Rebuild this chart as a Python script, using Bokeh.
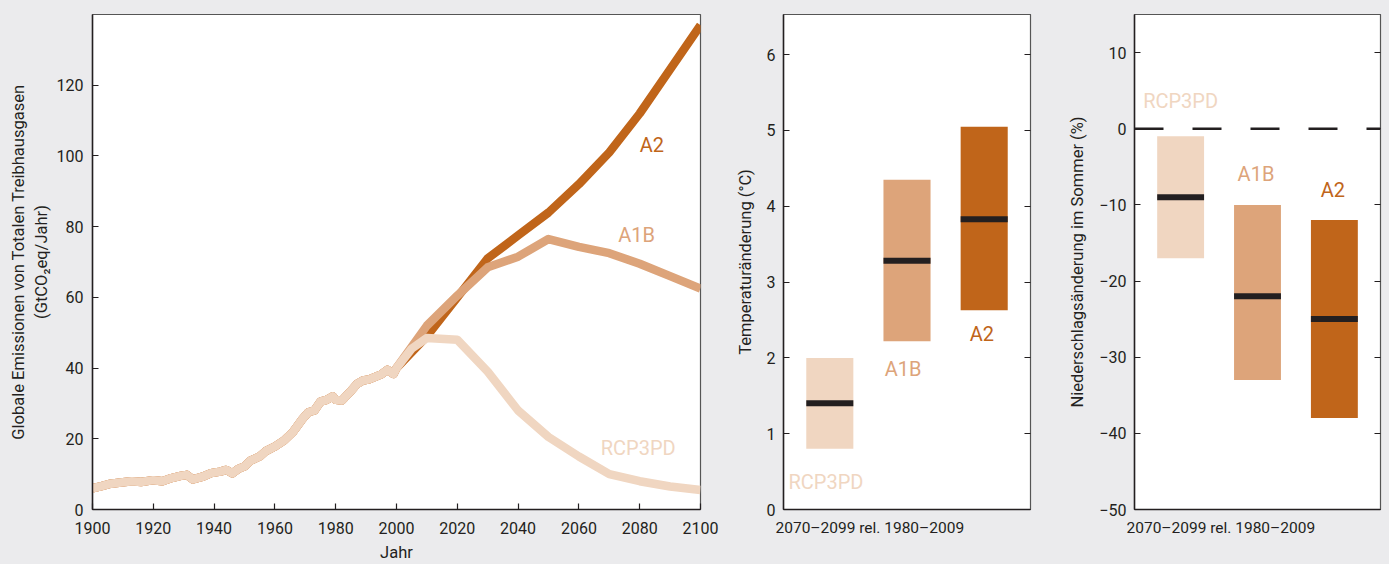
from bokeh.plotting import figure
from bokeh.models import LinearAxis, Range1d, FixedTicker, Title, Span, ColumnDataSource
from bokeh.layouts import row
from bokeh.embed import file_html
from bokeh.resources import INLINE
from bokeh.core.properties import value

# ---------------- data ----------------
hist_years = [1900, 1903, 1906, 1910, 1913, 1916, 1920, 1923, 1926, 1929, 1931, 1933, 1936,
              1939, 1942, 1944, 1946, 1948, 1950, 1952, 1955, 1957, 1960, 1963, 1966, 1969,
              1971, 1973, 1975, 1977, 1979, 1980, 1982, 1985, 1987, 1989, 1991, 1993, 1995,
              1997, 1999, 2000]
hist_vals = [6.0, 6.6, 7.3, 7.7, 8.0, 7.8, 8.3, 8.0, 8.9, 9.5, 9.8, 8.5, 9.2,
             10.3, 10.7, 11.2, 10.2, 11.5, 12.2, 13.8, 15.0, 16.5, 17.8, 19.5, 22.0, 25.5,
             27.5, 28.0, 30.5, 31.0, 32.0, 31.0, 30.8, 33.5, 35.5, 36.5, 36.8, 37.5, 38.2,
             39.5, 38.3, 40.0]

a2_years = [2010, 2020, 2030, 2040, 2050, 2060, 2070, 2080, 2090, 2100]
a2_vals = [49.0, 60.0, 71.0, 77.5, 84.0, 92.0, 101.0, 112.0, 124.5, 137.0]
a1b_years = [2010, 2020, 2030, 2040, 2050, 2060, 2070, 2080, 2090, 2100]
a1b_vals = [52.0, 60.5, 68.5, 71.5, 76.5, 74.3, 72.5, 69.5, 66.0, 62.5]
rcp_years = [2005, 2010, 2020, 2030, 2040, 2050, 2060, 2070, 2080, 2090, 2100]
rcp_vals = [45.5, 48.5, 48.0, 39.0, 28.0, 20.5, 15.0, 10.0, 8.0, 6.5, 5.5]

scenarios = ["RCP3PD", "A1B", "A2"]
temp_low = [0.8, 2.22, 2.63]
temp_high = [2.0, 4.35, 5.05]
temp_med = [1.4, 3.28, 3.83]
prec_low = [-17.0, -33.0, -38.0]
prec_high = [-1.0, -10.0, -12.0]
prec_med = [-9.0, -22.0, -25.0]

# label positions (annotation placement)
em_label_x = [2079.5, 2079, 2084]
em_label_y = [17.5, 77.5, 103.0]
temp_label_x = [0.95, 1.95, 2.97]
temp_label_y = [0.36, 1.86, 2.32]
prec_label_x = [1.0, 1.98, 2.98]
prec_label_y = [3.7, -5.9, -8.1]

# ---------------- style ----------------
BG = "#ebebed"
FONT = "Roboto"
C_A2 = "#c0651a"
C_A1B = "#dda47a"
C_RCP = "#f0d6c1"
COLORS = [C_RCP, C_A1B, C_A2]
TXT = "#231f20"
FH = 495


def style_axis(ax, ticks, overrides=None):
    ax.ticker = FixedTicker(ticks=ticks)
    ax.major_tick_in = 6
    ax.major_tick_out = 0
    ax.minor_tick_line_color = None
    ax.axis_line_color = TXT
    ax.axis_line_width = 1.5
    ax.major_tick_line_color = TXT
    ax.major_tick_line_width = 1.2
    ax.major_label_text_font = FONT
    ax.major_label_text_font_size = "16px"
    ax.major_label_text_color = TXT
    ax.axis_label_text_font = FONT
    ax.axis_label_text_font_size = "16.5px"
    ax.axis_label_text_font_style = "normal"
    ax.axis_label_text_color = TXT
    if overrides:
        ax.major_label_overrides = overrides


def base_fig(fw, xr, yr, lb, rb):
    p = figure(frame_width=fw, frame_height=FH, x_range=xr, y_range=yr,
               output_backend="svg", toolbar_location=None,
               min_border_left=lb, min_border_right=rb, min_border_top=14,
               min_border_bottom=53, background_fill_color="white",
               border_fill_color=BG, outline_line_color="#555555",
               outline_line_width=1.2)
    p.xgrid.visible = False
    p.ygrid.visible = False
    return p


# ---------------- panel 1: emissions ----------------
p1 = base_fig(608, Range1d(1900, 2100), Range1d(0, 140), 92, 28)
style_axis(p1.xaxis[0], list(range(1900, 2101, 20)))
style_axis(p1.yaxis[0], list(range(0, 121, 20)))
p1.xaxis.axis_label = "Jahr"
p1.xaxis.major_label_standoff = 12
p1.xaxis.axis_label_standoff = 6
p1.yaxis.axis_label = "Globale Emissionen von Totalen Treibhausgasen\n(GtCO\u2082eq/Jahr)"
p1.yaxis.major_label_standoff = 9
p1.yaxis.axis_label_standoff = 3

LW = 8.5
p1.line(hist_years + a2_years, hist_vals + a2_vals, line_color=C_A2, line_width=LW,
        line_join="round")
p1.line(hist_years + a1b_years, hist_vals + a1b_vals, line_color=C_A1B, line_width=LW,
        line_join="round")
p1.line(hist_years + rcp_years, hist_vals + rcp_vals, line_color=C_RCP, line_width=LW,
        line_join="round")
p1.text(x=em_label_x, y=em_label_y, text=scenarios, text_color=COLORS,
        text_align="center", text_baseline="middle", text_font=value(FONT),
        text_font_size="20px")

# ---------------- bar panels ----------------
xpos = [1, 2, 3]
BW = 0.61


def bar_panel(p, low, high, med, lx, ly):
    src = ColumnDataSource(dict(x=xpos, low=low, high=high, med=med, c=COLORS,
                                name=scenarios, lx=lx, ly=ly))
    p.vbar(x="x", width=BW, bottom="low", top="high", fill_color="c", line_color=None,
           source=src)
    p.rect(x="x", y="med", width=BW, height=6, height_units="screen", fill_color=TXT,
           line_color=None, source=src)
    p.text(x="lx", y="ly", text="name", text_color="c", text_align="center",
           text_baseline="middle", text_font=value(FONT), text_font_size="20px",
           source=src)


def finish_bar_axes(p, yticks, overrides=None):
    style_axis(p.yaxis[0], yticks, overrides)
    p.yaxis.major_label_standoff = 8
    xa = p.xaxis[0]
    xa.ticker = FixedTicker(ticks=[])
    xa.major_tick_in = 0
    xa.major_tick_out = 0
    xa.minor_tick_line_color = None
    xa.axis_line_color = TXT
    xa.axis_line_width = 1.5
    ra = LinearAxis()
    ra.ticker = FixedTicker(ticks=yticks)
    ra.major_tick_in = 6
    ra.major_tick_out = 0
    ra.minor_tick_line_color = None
    ra.major_label_overrides = {t: "" for t in yticks}
    ra.major_label_standoff = 0
    ra.axis_line_color = "#555555"
    ra.major_tick_line_color = TXT
    p.add_layout(ra, "right")
    t = Title(text="2070\u20132099 rel. 1980\u20132009", align="left", offset=-8,
              text_font=FONT, text_font_size="15.5px", text_font_style="normal",
              text_color=TXT, standoff=14)
    p.add_layout(t, "below")


p2 = base_fig(247, Range1d(0.4, 3.6), Range1d(0, 6.53), 55, 30)
bar_panel(p2, temp_low, temp_high, temp_med, temp_label_x, temp_label_y)
p2.yaxis.axis_label = "Temperatur\u00e4nderung (\u00b0C)"
p2.yaxis.axis_label_standoff = 9
finish_bar_axes(p2, [0, 1, 2, 3, 4, 5, 6])

p3 = base_fig(246, Range1d(0.4, 3.6), Range1d(-50, 15), 74, 5)
p3.add_layout(Span(location=0, dimension="width", line_color=TXT, line_width=2.5,
                   line_dash="29 29"))
bar_panel(p3, prec_low, prec_high, prec_med, prec_label_x, prec_label_y)
p3.yaxis.axis_label = "Niederschlags\u00e4nderung im Sommer (%)"
p3.yaxis.axis_label_standoff = 9
prec_ticks = [-50, -40, -30, -20, -10, 0, 10]
finish_bar_axes(p3, prec_ticks,
                {t: (str(t).replace("-", "\u2212")) for t in prec_ticks})

layout = row(p1, p2, p3, spacing=0)
html = file_html(layout, INLINE, "Emissionen")
html = html.replace("</head>",
                    "<style>html,body{margin:0;padding:0;background:#ebebed;overflow:hidden;}</style></head>", 1)
open("out.html", "w").write(html)
